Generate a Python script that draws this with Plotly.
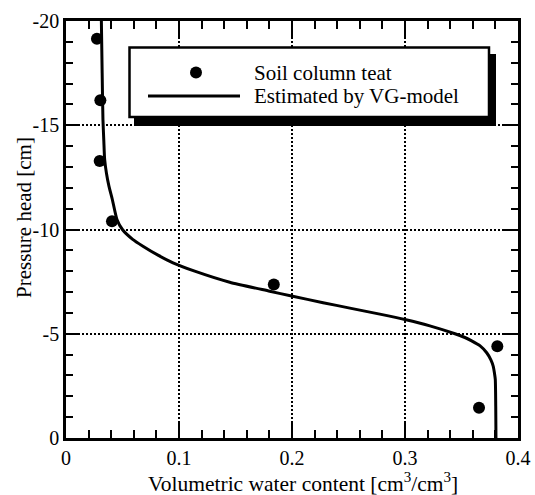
import plotly.graph_objects as go

# Soil column test: volumetric water content vs pressure head
theta_obs = [0.0274, 0.0304, 0.0298, 0.0407, 0.1839, 0.3817, 0.3655]
head_obs = [-19.15, -16.2, -13.28, -10.4, -7.36, -4.4, -1.45]

# Retention curve estimated with the van Genuchten model
theta_vg = [0.0313, 0.0320, 0.0327, 0.0335, 0.0342, 0.0358, 0.0380, 0.0410,
            0.0451, 0.0499, 0.0590, 0.0681, 0.0814, 0.0947, 0.1139, 0.1449,
            0.1803, 0.1996, 0.2275, 0.2512, 0.2777, 0.2999, 0.3220, 0.3442,
            0.3530, 0.3590, 0.3665, 0.3723, 0.3760, 0.3781, 0.3792, 0.3799,
            0.3803, 0.3805]
head_vg = [-20.0, -17.5, -15.27, -14.2, -13.36, -12.7, -12.08, -11.44,
           -10.48, -10.0, -9.53, -9.2, -8.77, -8.4, -8.0, -7.47,
           -7.04, -6.81, -6.49, -6.23, -5.94, -5.68, -5.38, -5.00,
           -4.82, -4.66, -4.42, -4.09, -3.75, -3.44, -3.1, -2.81,
           -1.5, 0.0]

x_tickvals = [0, 0.1, 0.2, 0.3, 0.4]
x_ticktext = ["0", "0.1", "0.2", "0.3", "0.4"]
y_tickvals = [-20, -15, -10, -5, 0]
y_ticktext = ["-20", "-15", "-10", "-5", "0"]

legend_labels = ["Soil column teat", "Estimated by VG-model"]
x_title = "Volumetric water content [cm<sup>3</sup>/cm<sup>3</sup>]"
y_title = "Pressure head [cm]"

FONT = "'Liberation Serif', 'Times New Roman', serif"
W, H = 535, 495
ML, MR, MT, MB = 66, 17, 21, 57
PW, PH = W - ML - MR, H - MT - MB


def fx(p):
    return (p - ML) / PW


def fy(p):
    return (H - MB - p) / PH


fig = go.Figure()
fig.add_trace(go.Scatter(
    x=theta_vg, y=head_vg, mode="lines", name=legend_labels[1],
    line=dict(color="black", width=3, shape="spline", smoothing=0.6),
    showlegend=False,
))
fig.add_trace(go.Scatter(
    x=theta_obs, y=head_obs, mode="markers", name=legend_labels[0],
    marker=dict(color="black", size=12),
    showlegend=False,
))

axis_common = dict(
    showline=True, linewidth=2.5, linecolor="black", mirror="ticks",
    ticks="inside", tickcolor="black", tickwidth=2,
    showgrid=True, gridcolor="black", gridwidth=1.5, griddash="2px,2px",
    zeroline=False,
    tickfont=dict(family=FONT, size=20, color="black"),
    tickmode="array",
)

fig.update_xaxes(
    **axis_common,
    range=[0, 0.4], tickvals=x_tickvals, ticktext=x_ticktext, ticklen=16,
    minor=dict(tickmode="linear", tick0=0, dtick=0.02, ticks="inside",
               ticklen=8, tickwidth=1.5, tickcolor="black", showgrid=False),
)
fig.update_yaxes(
    **axis_common,
    range=[0, -20], tickvals=y_tickvals, ticktext=y_ticktext, ticklen=14,
    minor=dict(tickmode="linear", tick0=0, dtick=1, ticks="inside",
               ticklen=7, tickwidth=1.5, tickcolor="black", showgrid=False),
)

# Legend box with drop shadow
shapes = [
    dict(type="rect", xref="paper", yref="paper", layer="above",
         x0=fx(134), x1=fx(496), y0=fy(54), y1=fy(126),
         fillcolor="black", line=dict(width=0)),
    dict(type="rect", xref="paper", yref="paper", layer="above",
         x0=fx(129.5), x1=fx(489), y0=fy(47.5), y1=fy(117),
         fillcolor="white", line=dict(color="black", width=2.5)),
    dict(type="circle", xref="paper", yref="paper", layer="above",
         x0=fx(190), x1=fx(202), y0=fy(66.5), y1=fy(78.5),
         fillcolor="black", line=dict(width=0)),
    dict(type="line", xref="paper", yref="paper", layer="above",
         x0=fx(148), x1=fx(240), y0=fy(96), y1=fy(96),
         line=dict(color="black", width=3)),
]
annotations = [
    dict(xref="paper", yref="paper", x=fx(252), y=fy(72.5), text=legend_labels[0],
         showarrow=False, xanchor="left", yanchor="middle",
         font=dict(family=FONT, size=21, color="black")),
    dict(xref="paper", yref="paper", x=fx(252), y=fy(95.5), text=legend_labels[1],
         showarrow=False, xanchor="left", yanchor="middle",
         font=dict(family=FONT, size=21, color="black")),
    # axis titles
    dict(xref="paper", yref="paper", x=fx(303), y=fy(482), text=x_title,
         showarrow=False, xanchor="center", yanchor="middle",
         font=dict(family=FONT, size=21.5, color="black")),
    dict(xref="paper", yref="paper", x=fx(24), y=fy(218), text=y_title,
         showarrow=False, xanchor="center", yanchor="middle", textangle=-90,
         font=dict(family=FONT, size=21, color="black")),
]

fig.update_layout(
    width=W, height=H,
    margin=dict(l=ML, r=MR, t=MT, b=MB, autoexpand=False),
    paper_bgcolor="white", plot_bgcolor="white",
    font=dict(family=FONT, color="black"),
    shapes=shapes, annotations=annotations,
    showlegend=False,
)

fig.write_html("out.html")
